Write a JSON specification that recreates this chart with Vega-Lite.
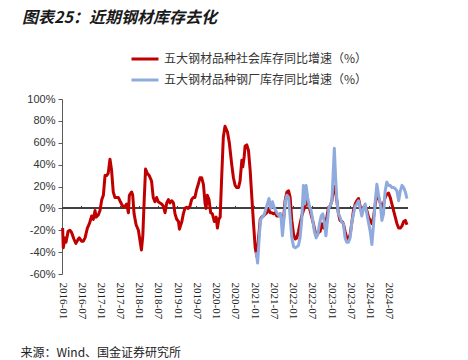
{
  "$schema": "https://vega.github.io/schema/vega-lite/v6.json",
  "width": 346,
  "height": 175,
  "autosize": {"type": "none"},
  "padding": {"left": 62, "top": 99, "right": 60, "bottom": 86},
  "background": "white",
  "config": {"view": {"stroke": null}},
  "title": {
    "text": "图表25：近期钢材库存去化",
    "anchor": "start",
    "frame": "group",
    "font": "Noto Sans CJK SC",
    "fontSize": 16,
    "fontStyle": "italic",
    "fontWeight": "bold",
    "color": "#1a1a1a",
    "dx": -40,
    "offset": 18
  },
  "datasets": {
    "series": [
      {"d": "2016-01-07", "v": -18, "s": "五大钢材品种社会库存同比增速（%）"},
      {"d": "2016-01-13", "v": -36, "s": "五大钢材品种社会库存同比增速（%）"},
      {"d": "2016-01-29", "v": -27, "s": "五大钢材品种社会库存同比增速（%）"},
      {"d": "2016-02-08", "v": -31, "s": "五大钢材品种社会库存同比增速（%）"},
      {"d": "2016-02-28", "v": -21, "s": "五大钢材品种社会库存同比增速（%）"},
      {"d": "2016-03-16", "v": -20, "s": "五大钢材品种社会库存同比增速（%）"},
      {"d": "2016-04-01", "v": -22, "s": "五大钢材品种社会库存同比增速（%）"},
      {"d": "2016-04-23", "v": -28, "s": "五大钢材品种社会库存同比增速（%）"},
      {"d": "2016-05-12", "v": -32, "s": "五大钢材品种社会库存同比增速（%）"},
      {"d": "2016-06-04", "v": -28, "s": "五大钢材品种社会库存同比增速（%）"},
      {"d": "2016-06-13", "v": -27, "s": "五大钢材品种社会库存同比增速（%）"},
      {"d": "2016-07-05", "v": -30, "s": "五大钢材品种社会库存同比增速（%）"},
      {"d": "2016-07-21", "v": -30, "s": "五大钢材品种社会库存同比增速（%）"},
      {"d": "2016-08-07", "v": -27, "s": "五大钢材品种社会库存同比增速（%）"},
      {"d": "2016-08-29", "v": -18, "s": "五大钢材品种社会库存同比增速（%）"},
      {"d": "2016-09-17", "v": -14, "s": "五大钢材品种社会库存同比增速（%）"},
      {"d": "2016-09-30", "v": -10, "s": "五大钢材品种社会库存同比增速（%）"},
      {"d": "2016-10-09", "v": -7, "s": "五大钢材品种社会库存同比增速（%）"},
      {"d": "2016-10-25", "v": -10, "s": "五大钢材品种社会库存同比增速（%）"},
      {"d": "2016-11-10", "v": -2, "s": "五大钢材品种社会库存同比增速（%）"},
      {"d": "2016-11-20", "v": -8, "s": "五大钢材品种社会库存同比增速（%）"},
      {"d": "2016-12-11", "v": -6, "s": "五大钢材品种社会库存同比增速（%）"},
      {"d": "2016-12-27", "v": -2, "s": "五大钢材品种社会库存同比增速（%）"},
      {"d": "2017-01-13", "v": 8, "s": "五大钢材品种社会库存同比增速（%）"},
      {"d": "2017-01-28", "v": 12, "s": "五大钢材品种社会库存同比增速（%）"},
      {"d": "2017-02-13", "v": 30, "s": "五大钢材品种社会库存同比增速（%）"},
      {"d": "2017-02-28", "v": 30, "s": "五大钢材品种社会库存同比增速（%）"},
      {"d": "2017-03-15", "v": 32, "s": "五大钢材品种社会库存同比增速（%）"},
      {"d": "2017-04-01", "v": 45, "s": "五大钢材品种社会库存同比增速（%）"},
      {"d": "2017-04-16", "v": 35, "s": "五大钢材品种社会库存同比增速（%）"},
      {"d": "2017-05-02", "v": 15, "s": "五大钢材品种社会库存同比增速（%）"},
      {"d": "2017-05-18", "v": 10, "s": "五大钢材品种社会库存同比增速（%）"},
      {"d": "2017-06-19", "v": 10, "s": "五大钢材品种社会库存同比增速（%）"},
      {"d": "2017-07-04", "v": 7, "s": "五大钢材品种社会库存同比增速（%）"},
      {"d": "2017-07-20", "v": 4, "s": "五大钢材品种社会库存同比增速（%）"},
      {"d": "2017-08-06", "v": 1, "s": "五大钢材品种社会库存同比增速（%）"},
      {"d": "2017-08-22", "v": 2, "s": "五大钢材品种社会库存同比增速（%）"},
      {"d": "2017-09-07", "v": 4, "s": "五大钢材品种社会库存同比增速（%）"},
      {"d": "2017-09-23", "v": -4, "s": "五大钢材品种社会库存同比增速（%）"},
      {"d": "2017-10-02", "v": 12, "s": "五大钢材品种社会库存同比增速（%）"},
      {"d": "2017-10-24", "v": 15, "s": "五大钢材品种社会库存同比增速（%）"},
      {"d": "2017-11-03", "v": 12, "s": "五大钢材品种社会库存同比增速（%）"},
      {"d": "2017-11-16", "v": -5, "s": "五大钢材品种社会库存同比增速（%）"},
      {"d": "2017-12-05", "v": -15, "s": "五大钢材品种社会库存同比增速（%）"},
      {"d": "2017-12-27", "v": -20, "s": "五大钢材品种社会库存同比增速（%）"},
      {"d": "2018-01-12", "v": -30, "s": "五大钢材品种社会库存同比增速（%）"},
      {"d": "2018-01-25", "v": -38, "s": "五大钢材品种社会库存同比增速（%）"},
      {"d": "2018-02-07", "v": -25, "s": "五大钢材品种社会库存同比增速（%）"},
      {"d": "2018-02-19", "v": 5, "s": "五大钢材品种社会库存同比增速（%）"},
      {"d": "2018-03-05", "v": 36, "s": "五大钢材品种社会库存同比增速（%）"},
      {"d": "2018-03-21", "v": 32, "s": "五大钢材品种社会库存同比增速（%）"},
      {"d": "2018-04-09", "v": 30, "s": "五大钢材品种社会库存同比增速（%）"},
      {"d": "2018-05-01", "v": 25, "s": "五大钢材品种社会库存同比增速（%）"},
      {"d": "2018-05-17", "v": 10, "s": "五大钢材品种社会库存同比增速（%）"},
      {"d": "2018-06-02", "v": 6, "s": "五大钢材品种社会库存同比增速（%）"},
      {"d": "2018-06-18", "v": 10, "s": "五大钢材品种社会库存同比增速（%）"},
      {"d": "2018-07-04", "v": 6, "s": "五大钢材品种社会库存同比增速（%）"},
      {"d": "2018-07-20", "v": 5, "s": "五大钢材品种社会库存同比增速（%）"},
      {"d": "2018-08-05", "v": 4, "s": "五大钢材品种社会库存同比增速（%）"},
      {"d": "2018-08-21", "v": 2, "s": "五大钢材品种社会库存同比增速（%）"},
      {"d": "2018-09-06", "v": -4, "s": "五大钢材品种社会库存同比增速（%）"},
      {"d": "2018-09-22", "v": 5, "s": "五大钢材品种社会库存同比增速（%）"},
      {"d": "2018-10-08", "v": 8, "s": "五大钢材品种社会库存同比增速（%）"},
      {"d": "2018-10-23", "v": 5, "s": "五大钢材品种社会库存同比增速（%）"},
      {"d": "2018-11-09", "v": 7, "s": "五大钢材品种社会库存同比增速（%）"},
      {"d": "2018-11-25", "v": 5, "s": "五大钢材品种社会库存同比增速（%）"},
      {"d": "2018-12-10", "v": -5, "s": "五大钢材品种社会库存同比增速（%）"},
      {"d": "2018-12-26", "v": -10, "s": "五大钢材品种社会库存同比增速（%）"},
      {"d": "2019-01-12", "v": -12, "s": "五大钢材品种社会库存同比增速（%）"},
      {"d": "2019-01-21", "v": -19, "s": "五大钢材品种社会库存同比增速（%）"},
      {"d": "2019-02-13", "v": -12, "s": "五大钢材品种社会库存同比增速（%）"},
      {"d": "2019-02-27", "v": -5, "s": "五大钢材品种社会库存同比增速（%）"},
      {"d": "2019-03-14", "v": 0, "s": "五大钢材品种社会库存同比增速（%）"},
      {"d": "2019-03-30", "v": 1, "s": "五大钢材品种社会库存同比增速（%）"},
      {"d": "2019-04-15", "v": 0, "s": "五大钢材品种社会库存同比增速（%）"},
      {"d": "2019-05-01", "v": 2, "s": "五大钢材品种社会库存同比增速（%）"},
      {"d": "2019-05-17", "v": 8, "s": "五大钢材品种社会库存同比增速（%）"},
      {"d": "2019-06-02", "v": 10, "s": "五大钢材品种社会库存同比增速（%）"},
      {"d": "2019-06-17", "v": 10, "s": "五大钢材品种社会库存同比增速（%）"},
      {"d": "2019-07-03", "v": 17, "s": "五大钢材品种社会库存同比增速（%）"},
      {"d": "2019-07-19", "v": 22, "s": "五大钢材品种社会库存同比增速（%）"},
      {"d": "2019-08-04", "v": 28, "s": "五大钢材品种社会库存同比增速（%）"},
      {"d": "2019-08-20", "v": 28, "s": "五大钢材品种社会库存同比增速（%）"},
      {"d": "2019-09-06", "v": 22, "s": "五大钢材品种社会库存同比增速（%）"},
      {"d": "2019-09-21", "v": 5, "s": "五大钢材品种社会库存同比增速（%）"},
      {"d": "2019-10-01", "v": 0, "s": "五大钢材品种社会库存同比增速（%）"},
      {"d": "2019-10-13", "v": 12, "s": "五大钢材品种社会库存同比增速（%）"},
      {"d": "2019-10-29", "v": 8, "s": "五大钢材品种社会库存同比增速（%）"},
      {"d": "2019-11-14", "v": -4, "s": "五大钢材品种社会库存同比增速（%）"},
      {"d": "2019-11-30", "v": -5, "s": "五大钢材品种社会库存同比增速（%）"},
      {"d": "2019-12-19", "v": -12, "s": "五大钢材品种社会库存同比增速（%）"},
      {"d": "2020-01-05", "v": -8, "s": "五大钢材品种社会库存同比增速（%）"},
      {"d": "2020-01-17", "v": -18, "s": "五大钢材品种社会库存同比增速（%）"},
      {"d": "2020-01-30", "v": -10, "s": "五大钢材品种社会库存同比增速（%）"},
      {"d": "2020-02-12", "v": -8, "s": "五大钢材品种社会库存同比增速（%）"},
      {"d": "2020-02-27", "v": 30, "s": "五大钢材品种社会库存同比增速（%）"},
      {"d": "2020-03-13", "v": 65, "s": "五大钢材品种社会库存同比增速（%）"},
      {"d": "2020-03-29", "v": 75, "s": "五大钢材品种社会库存同比增速（%）"},
      {"d": "2020-04-21", "v": 70, "s": "五大钢材品种社会库存同比增速（%）"},
      {"d": "2020-05-09", "v": 60, "s": "五大钢材品种社会库存同比增速（%）"},
      {"d": "2020-06-01", "v": 40, "s": "五大钢材品种社会库存同比增速（%）"},
      {"d": "2020-06-17", "v": 28, "s": "五大钢材品种社会库存同比增速（%）"},
      {"d": "2020-07-03", "v": 21, "s": "五大钢材品种社会库存同比增速（%）"},
      {"d": "2020-07-18", "v": 19, "s": "五大钢材品种社会库存同比增速（%）"},
      {"d": "2020-08-04", "v": 19, "s": "五大钢材品种社会库存同比增速（%）"},
      {"d": "2020-08-19", "v": 25, "s": "五大钢材品种社会库存同比增速（%）"},
      {"d": "2020-09-05", "v": 44, "s": "五大钢材品种社会库存同比增速（%）"},
      {"d": "2020-09-14", "v": 38, "s": "五大钢材品种社会库存同比增速（%）"},
      {"d": "2020-09-27", "v": 47, "s": "五大钢材品种社会库存同比增速（%）"},
      {"d": "2020-10-06", "v": 57, "s": "五大钢材品种社会库存同比增速（%）"},
      {"d": "2020-10-22", "v": 58, "s": "五大钢材品种社会库存同比增速（%）"},
      {"d": "2020-11-07", "v": 53, "s": "五大钢材品种社会库存同比增速（%）"},
      {"d": "2020-11-23", "v": 35, "s": "五大钢材品种社会库存同比增速（%）"},
      {"d": "2020-12-09", "v": 10, "s": "五大钢材品种社会库存同比增速（%）"},
      {"d": "2020-12-25", "v": -14, "s": "五大钢材品种社会库存同比增速（%）"},
      {"d": "2021-01-10", "v": -36, "s": "五大钢材品种社会库存同比增速（%）"},
      {"d": "2021-01-26", "v": -44, "s": "五大钢材品种社会库存同比增速（%）"},
      {"d": "2021-02-11", "v": -27, "s": "五大钢材品种社会库存同比增速（%）"},
      {"d": "2021-02-27", "v": -10, "s": "五大钢材品种社会库存同比增速（%）"},
      {"d": "2021-03-13", "v": -8, "s": "五大钢材品种社会库存同比增速（%）"},
      {"d": "2021-03-29", "v": -7, "s": "五大钢材品种社会库存同比增速（%）"},
      {"d": "2021-04-30", "v": -4, "s": "五大钢材品种社会库存同比增速（%）"},
      {"d": "2021-05-15", "v": 0, "s": "五大钢材品种社会库存同比增速（%）"},
      {"d": "2021-06-01", "v": -4, "s": "五大钢材品种社会库存同比增速（%）"},
      {"d": "2021-06-16", "v": -4, "s": "五大钢材品种社会库存同比增速（%）"},
      {"d": "2021-07-02", "v": -5, "s": "五大钢材品种社会库存同比增速（%）"},
      {"d": "2021-07-18", "v": -4, "s": "五大钢材品种社会库存同比增速（%）"},
      {"d": "2021-08-03", "v": -7, "s": "五大钢材品种社会库存同比增速（%）"},
      {"d": "2021-08-19", "v": -7, "s": "五大钢材品种社会库存同比增速（%）"},
      {"d": "2021-09-04", "v": -5, "s": "五大钢材品种社会库存同比增速（%）"},
      {"d": "2021-09-20", "v": -8, "s": "五大钢材品种社会库存同比增速（%）"},
      {"d": "2021-10-06", "v": -10, "s": "五大钢材品种社会库存同比增速（%）"},
      {"d": "2021-10-21", "v": 7, "s": "五大钢材品种社会库存同比增速（%）"},
      {"d": "2021-11-07", "v": 15, "s": "五大钢材品种社会库存同比增速（%）"},
      {"d": "2021-11-23", "v": 16, "s": "五大钢材品种社会库存同比增速（%）"},
      {"d": "2021-12-08", "v": 10, "s": "五大钢材品种社会库存同比增速（%）"},
      {"d": "2021-12-24", "v": -11, "s": "五大钢材品种社会库存同比增速（%）"},
      {"d": "2022-01-10", "v": -24, "s": "五大钢材品种社会库存同比增速（%）"},
      {"d": "2022-01-25", "v": -28, "s": "五大钢材品种社会库存同比增速（%）"},
      {"d": "2022-02-10", "v": -27, "s": "五大钢材品种社会库存同比增速（%）"},
      {"d": "2022-02-25", "v": -21, "s": "五大钢材品种社会库存同比增速（%）"},
      {"d": "2022-03-12", "v": -14, "s": "五大钢材品种社会库存同比增速（%）"},
      {"d": "2022-03-28", "v": -7, "s": "五大钢材品种社会库存同比增速（%）"},
      {"d": "2022-04-13", "v": -2, "s": "五大钢材品种社会库存同比增速（%）"},
      {"d": "2022-04-29", "v": 2, "s": "五大钢材品种社会库存同比增速（%）"},
      {"d": "2022-05-15", "v": 7, "s": "五大钢材品种社会库存同比增速（%）"},
      {"d": "2022-05-31", "v": 4, "s": "五大钢材品种社会库存同比增速（%）"},
      {"d": "2022-06-16", "v": -2, "s": "五大钢材品种社会库存同比增速（%）"},
      {"d": "2022-07-01", "v": -8, "s": "五大钢材品种社会库存同比增速（%）"},
      {"d": "2022-07-17", "v": -14, "s": "五大钢材品种社会库存同比增速（%）"},
      {"d": "2022-08-02", "v": -21, "s": "五大钢材品种社会库存同比增速（%）"},
      {"d": "2022-08-18", "v": -24, "s": "五大钢材品种社会库存同比增速（%）"},
      {"d": "2022-09-04", "v": -22, "s": "五大钢材品种社会库存同比增速（%）"},
      {"d": "2022-09-19", "v": -21, "s": "五大钢材品种社会库存同比增速（%）"},
      {"d": "2022-10-05", "v": -14, "s": "五大钢材品种社会库存同比增速（%）"},
      {"d": "2022-10-21", "v": -18, "s": "五大钢材品种社会库存同比增速（%）"},
      {"d": "2022-11-06", "v": -13, "s": "五大钢材品种社会库存同比增速（%）"},
      {"d": "2022-11-22", "v": -8, "s": "五大钢材品种社会库存同比增速（%）"},
      {"d": "2022-12-08", "v": 1, "s": "五大钢材品种社会库存同比增速（%）"},
      {"d": "2022-12-23", "v": 2, "s": "五大钢材品种社会库存同比增速（%）"},
      {"d": "2023-01-09", "v": 7, "s": "五大钢材品种社会库存同比增速（%）"},
      {"d": "2023-01-25", "v": 19, "s": "五大钢材品种社会库存同比增速（%）"},
      {"d": "2023-02-06", "v": 20, "s": "五大钢材品种社会库存同比增速（%）"},
      {"d": "2023-02-25", "v": 7, "s": "五大钢材品种社会库存同比增速（%）"},
      {"d": "2023-03-12", "v": -5, "s": "五大钢材品种社会库存同比增速（%）"},
      {"d": "2023-03-27", "v": -11, "s": "五大钢材品种社会库存同比增速（%）"},
      {"d": "2023-04-13", "v": -12, "s": "五大钢材品种社会库存同比增速（%）"},
      {"d": "2023-04-28", "v": -14, "s": "五大钢材品种社会库存同比增速（%）"},
      {"d": "2023-05-14", "v": -21, "s": "五大钢材品种社会库存同比增速（%）"},
      {"d": "2023-05-30", "v": -27, "s": "五大钢材品种社会库存同比增速（%）"},
      {"d": "2023-06-15", "v": -28, "s": "五大钢材品种社会库存同比增速（%）"},
      {"d": "2023-07-01", "v": -24, "s": "五大钢材品种社会库存同比增速（%）"},
      {"d": "2023-07-17", "v": -13, "s": "五大钢材品种社会库存同比增速（%）"},
      {"d": "2023-08-02", "v": -2, "s": "五大钢材品种社会库存同比增速（%）"},
      {"d": "2023-08-18", "v": 4, "s": "五大钢材品种社会库存同比增速（%）"},
      {"d": "2023-09-03", "v": 7, "s": "五大钢材品种社会库存同比增速（%）"},
      {"d": "2023-09-19", "v": 9, "s": "五大钢材品种社会库存同比增速（%）"},
      {"d": "2023-10-04", "v": 2, "s": "五大钢材品种社会库存同比增速（%）"},
      {"d": "2023-10-20", "v": -4, "s": "五大钢材品种社会库存同比增速（%）"},
      {"d": "2023-11-06", "v": 1, "s": "五大钢材品种社会库存同比增速（%）"},
      {"d": "2023-11-21", "v": 2, "s": "五大钢材品种社会库存同比增速（%）"},
      {"d": "2023-12-07", "v": -2, "s": "五大钢材品种社会库存同比增速（%）"},
      {"d": "2023-12-23", "v": -8, "s": "五大钢材品种社会库存同比增速（%）"},
      {"d": "2024-01-08", "v": -11, "s": "五大钢材品种社会库存同比增速（%）"},
      {"d": "2024-01-24", "v": -14, "s": "五大钢材品种社会库存同比增速（%）"},
      {"d": "2024-02-09", "v": -8, "s": "五大钢材品种社会库存同比增速（%）"},
      {"d": "2024-02-25", "v": 4, "s": "五大钢材品种社会库存同比增速（%）"},
      {"d": "2024-03-11", "v": 13, "s": "五大钢材品种社会库存同比增速（%）"},
      {"d": "2024-03-26", "v": 10, "s": "五大钢材品种社会库存同比增速（%）"},
      {"d": "2024-04-12", "v": 5, "s": "五大钢材品种社会库存同比增速（%）"},
      {"d": "2024-04-28", "v": 2, "s": "五大钢材品种社会库存同比增速（%）"},
      {"d": "2024-05-13", "v": 4, "s": "五大钢材品种社会库存同比增速（%）"},
      {"d": "2024-05-29", "v": 10, "s": "五大钢材品种社会库存同比增速（%）"},
      {"d": "2024-06-14", "v": 13, "s": "五大钢材品种社会库存同比增速（%）"},
      {"d": "2024-06-30", "v": 14, "s": "五大钢材品种社会库存同比增速（%）"},
      {"d": "2024-07-16", "v": 10, "s": "五大钢材品种社会库存同比增速（%）"},
      {"d": "2024-08-01", "v": 4, "s": "五大钢材品种社会库存同比增速（%）"},
      {"d": "2024-08-17", "v": -2, "s": "五大钢材品种社会库存同比增速（%）"},
      {"d": "2024-09-02", "v": -8, "s": "五大钢材品种社会库存同比增速（%）"},
      {"d": "2024-09-18", "v": -14, "s": "五大钢材品种社会库存同比增速（%）"},
      {"d": "2024-10-04", "v": -18, "s": "五大钢材品种社会库存同比增速（%）"},
      {"d": "2024-10-20", "v": -18, "s": "五大钢材品种社会库存同比增速（%）"},
      {"d": "2024-11-05", "v": -16, "s": "五大钢材品种社会库存同比增速（%）"},
      {"d": "2024-11-21", "v": -12, "s": "五大钢材品种社会库存同比增速（%）"},
      {"d": "2024-12-07", "v": -11, "s": "五大钢材品种社会库存同比增速（%）"},
      {"d": "2024-12-22", "v": -15, "s": "五大钢材品种社会库存同比增速（%）"},
      {"d": "2021-01-20", "v": -40, "s": "五大钢材品种钢厂库存同比增速（%）"},
      {"d": "2021-02-02", "v": -50, "s": "五大钢材品种钢厂库存同比增速（%）"},
      {"d": "2021-02-21", "v": -21, "s": "五大钢材品种钢厂库存同比增速（%）"},
      {"d": "2021-03-03", "v": -10, "s": "五大钢材品种钢厂库存同比增速（%）"},
      {"d": "2021-03-19", "v": -8, "s": "五大钢材品种钢厂库存同比增速（%）"},
      {"d": "2021-04-04", "v": -6, "s": "五大钢材品种钢厂库存同比增速（%）"},
      {"d": "2021-04-20", "v": -1, "s": "五大钢材品种钢厂库存同比增速（%）"},
      {"d": "2021-05-06", "v": 4, "s": "五大钢材品种钢厂库存同比增速（%）"},
      {"d": "2021-05-21", "v": 9, "s": "五大钢材品种钢厂库存同比增速（%）"},
      {"d": "2021-06-07", "v": 0, "s": "五大钢材品种钢厂库存同比增速（%）"},
      {"d": "2021-06-23", "v": 6, "s": "五大钢材品种钢厂库存同比增速（%）"},
      {"d": "2021-07-08", "v": 1, "s": "五大钢材品种钢厂库存同比增速（%）"},
      {"d": "2021-07-24", "v": -2, "s": "五大钢材品种钢厂库存同比增速（%）"},
      {"d": "2021-08-09", "v": -5, "s": "五大钢材品种钢厂库存同比增速（%）"},
      {"d": "2021-08-28", "v": -7, "s": "五大钢材品种钢厂库存同比增速（%）"},
      {"d": "2021-09-10", "v": -5, "s": "五大钢材品种钢厂库存同比增速（%）"},
      {"d": "2021-09-26", "v": -25, "s": "五大钢材品种钢厂库存同比增速（%）"},
      {"d": "2021-10-12", "v": -8, "s": "五大钢材品种钢厂库存同比增速（%）"},
      {"d": "2021-10-25", "v": 7, "s": "五大钢材品种钢厂库存同比增速（%）"},
      {"d": "2021-11-07", "v": 12, "s": "五大钢材品种钢厂库存同比增速（%）"},
      {"d": "2021-11-23", "v": 10, "s": "五大钢材品种钢厂库存同比增速（%）"},
      {"d": "2021-12-08", "v": -8, "s": "五大钢材品种钢厂库存同比增速（%）"},
      {"d": "2021-12-24", "v": -27, "s": "五大钢材品种钢厂库存同比增速（%）"},
      {"d": "2022-01-10", "v": -35, "s": "五大钢材品种钢厂库存同比增速（%）"},
      {"d": "2022-01-25", "v": -36, "s": "五大钢材品种钢厂库存同比增速（%）"},
      {"d": "2022-02-10", "v": -35, "s": "五大钢材品种钢厂库存同比增速（%）"},
      {"d": "2022-02-25", "v": -34, "s": "五大钢材品种钢厂库存同比增速（%）"},
      {"d": "2022-03-12", "v": -27, "s": "五大钢材品种钢厂库存同比增速（%）"},
      {"d": "2022-03-28", "v": -11, "s": "五大钢材品种钢厂库存同比增速（%）"},
      {"d": "2022-04-13", "v": 21, "s": "五大钢材品种钢厂库存同比增速（%）"},
      {"d": "2022-04-26", "v": 4, "s": "五大钢材品种钢厂库存同比增速（%）"},
      {"d": "2022-05-08", "v": 21, "s": "五大钢材品种钢厂库存同比增速（%）"},
      {"d": "2022-05-24", "v": 10, "s": "五大钢材品种钢厂库存同比增速（%）"},
      {"d": "2022-06-09", "v": 2, "s": "五大钢材品种钢厂库存同比增速（%）"},
      {"d": "2022-06-25", "v": -2, "s": "五大钢材品种钢厂库存同比增速（%）"},
      {"d": "2022-07-11", "v": -11, "s": "五大钢材品种钢厂库存同比增速（%）"},
      {"d": "2022-07-26", "v": -21, "s": "五大钢材品种钢厂库存同比增速（%）"},
      {"d": "2022-08-12", "v": -27, "s": "五大钢材品种钢厂库存同比增速（%）"},
      {"d": "2022-08-28", "v": -24, "s": "五大钢材品种钢厂库存同比增速（%）"},
      {"d": "2022-09-13", "v": -14, "s": "五大钢材品种钢厂库存同比增速（%）"},
      {"d": "2022-09-29", "v": -7, "s": "五大钢材品种钢厂库存同比增速（%）"},
      {"d": "2022-10-15", "v": -5, "s": "五大钢材品种钢厂库存同比增速（%）"},
      {"d": "2022-10-31", "v": -14, "s": "五大钢材品种钢厂库存同比增速（%）"},
      {"d": "2022-11-13", "v": -25, "s": "五大钢材品种钢厂库存同比增速（%）"},
      {"d": "2022-11-25", "v": -14, "s": "五大钢材品种钢厂库存同比增速（%）"},
      {"d": "2022-12-11", "v": 1, "s": "五大钢材品种钢厂库存同比增速（%）"},
      {"d": "2022-12-23", "v": 2, "s": "五大钢材品种钢厂库存同比增速（%）"},
      {"d": "2023-01-09", "v": 7, "s": "五大钢材品种钢厂库存同比增速（%）"},
      {"d": "2023-01-21", "v": 32, "s": "五大钢材品种钢厂库存同比增速（%）"},
      {"d": "2023-02-01", "v": 55, "s": "五大钢材品种钢厂库存同比增速（%）"},
      {"d": "2023-02-13", "v": 28, "s": "五大钢材品种钢厂库存同比增速（%）"},
      {"d": "2023-02-25", "v": 7, "s": "五大钢材品种钢厂库存同比增速（%）"},
      {"d": "2023-03-12", "v": -5, "s": "五大钢材品种钢厂库存同比增速（%）"},
      {"d": "2023-03-27", "v": -8, "s": "五大钢材品种钢厂库存同比增速（%）"},
      {"d": "2023-04-13", "v": -13, "s": "五大钢材品种钢厂库存同比增速（%）"},
      {"d": "2023-04-28", "v": -14, "s": "五大钢材品种钢厂库存同比增速（%）"},
      {"d": "2023-05-14", "v": -27, "s": "五大钢材品种钢厂库存同比增速（%）"},
      {"d": "2023-05-30", "v": -31, "s": "五大钢材品种钢厂库存同比增速（%）"},
      {"d": "2023-06-15", "v": -31, "s": "五大钢材品种钢厂库存同比增速（%）"},
      {"d": "2023-07-01", "v": -27, "s": "五大钢材品种钢厂库存同比增速（%）"},
      {"d": "2023-07-17", "v": -13, "s": "五大钢材品种钢厂库存同比增速（%）"},
      {"d": "2023-08-02", "v": -5, "s": "五大钢材品种钢厂库存同比增速（%）"},
      {"d": "2023-08-18", "v": 2, "s": "五大钢材品种钢厂库存同比增速（%）"},
      {"d": "2023-09-03", "v": 4, "s": "五大钢材品种钢厂库存同比增速（%）"},
      {"d": "2023-09-19", "v": 7, "s": "五大钢材品种钢厂库存同比增速（%）"},
      {"d": "2023-10-04", "v": 0, "s": "五大钢材品种钢厂库存同比增速（%）"},
      {"d": "2023-10-20", "v": -7, "s": "五大钢材品种钢厂库存同比增速（%）"},
      {"d": "2023-11-06", "v": 0, "s": "五大钢材品种钢厂库存同比增速（%）"},
      {"d": "2023-11-21", "v": 4, "s": "五大钢材品种钢厂库存同比增速（%）"},
      {"d": "2023-12-07", "v": -5, "s": "五大钢材品种钢厂库存同比增速（%）"},
      {"d": "2023-12-23", "v": -13, "s": "五大钢材品种钢厂库存同比增速（%）"},
      {"d": "2024-01-08", "v": -21, "s": "五大钢材品种钢厂库存同比增速（%）"},
      {"d": "2024-01-24", "v": -33, "s": "五大钢材品种钢厂库存同比增速（%）"},
      {"d": "2024-02-09", "v": -14, "s": "五大钢材品种钢厂库存同比增速（%）"},
      {"d": "2024-02-25", "v": 7, "s": "五大钢材品种钢厂库存同比增速（%）"},
      {"d": "2024-03-11", "v": 22, "s": "五大钢材品种钢厂库存同比增速（%）"},
      {"d": "2024-03-26", "v": 13, "s": "五大钢材品种钢厂库存同比增速（%）"},
      {"d": "2024-04-12", "v": 4, "s": "五大钢材品种钢厂库存同比增速（%）"},
      {"d": "2024-04-28", "v": -11, "s": "五大钢材品种钢厂库存同比增速（%）"},
      {"d": "2024-05-13", "v": -5, "s": "五大钢材品种钢厂库存同比增速（%）"},
      {"d": "2024-05-29", "v": 16, "s": "五大钢材品种钢厂库存同比增速（%）"},
      {"d": "2024-06-14", "v": 24, "s": "五大钢材品种钢厂库存同比增速（%）"},
      {"d": "2024-06-30", "v": 21, "s": "五大钢材品种钢厂库存同比增速（%）"},
      {"d": "2024-07-16", "v": 21, "s": "五大钢材品种钢厂库存同比增速（%）"},
      {"d": "2024-08-01", "v": 19, "s": "五大钢材品种钢厂库存同比增速（%）"},
      {"d": "2024-08-17", "v": 19, "s": "五大钢材品种钢厂库存同比增速（%）"},
      {"d": "2024-09-02", "v": 18, "s": "五大钢材品种钢厂库存同比增速（%）"},
      {"d": "2024-09-18", "v": 16, "s": "五大钢材品种钢厂库存同比增速（%）"},
      {"d": "2024-10-04", "v": 7, "s": "五大钢材品种钢厂库存同比增速（%）"},
      {"d": "2024-10-20", "v": 16, "s": "五大钢材品种钢厂库存同比增速（%）"},
      {"d": "2024-11-05", "v": 21, "s": "五大钢材品种钢厂库存同比增速（%）"},
      {"d": "2024-11-21", "v": 19, "s": "五大钢材品种钢厂库存同比增速（%）"},
      {"d": "2024-12-07", "v": 15, "s": "五大钢材品种钢厂库存同比增速（%）"},
      {"d": "2024-12-22", "v": 9, "s": "五大钢材品种钢厂库存同比增速（%）"}
    ]
  },
  "data": {"name": "series"},
  "layer": [
    {
      "mark": {"type": "rule", "color": "#404040", "strokeWidth": 1},
      "encoding": {"y": {"datum": 0, "type": "quantitative", "axis": null}}
    },
    {
      "mark": {"type": "line", "strokeWidth": 3, "strokeJoin": "round"},
      "encoding": {
        "x": {
          "field": "d",
          "type": "temporal",
          "scale": {"type": "utc", "domain": [{"year": 2016, "month": 1, "date": 1, "utc": true}, {"year": 2025, "month": 1, "date": 1, "utc": true}]},
          "axis": {
            "orient": "bottom",
            "values": [
              {"year": 2016, "month": 1, "date": 1, "utc": true}, {"year": 2016, "month": 7, "date": 1, "utc": true},
              {"year": 2017, "month": 1, "date": 1, "utc": true}, {"year": 2017, "month": 7, "date": 1, "utc": true},
              {"year": 2018, "month": 1, "date": 1, "utc": true}, {"year": 2018, "month": 7, "date": 1, "utc": true},
              {"year": 2019, "month": 1, "date": 1, "utc": true}, {"year": 2019, "month": 7, "date": 1, "utc": true},
              {"year": 2020, "month": 1, "date": 1, "utc": true}, {"year": 2020, "month": 7, "date": 1, "utc": true},
              {"year": 2021, "month": 1, "date": 1, "utc": true}, {"year": 2021, "month": 7, "date": 1, "utc": true},
              {"year": 2022, "month": 1, "date": 1, "utc": true}, {"year": 2022, "month": 7, "date": 1, "utc": true},
              {"year": 2023, "month": 1, "date": 1, "utc": true}, {"year": 2023, "month": 7, "date": 1, "utc": true},
              {"year": 2024, "month": 1, "date": 1, "utc": true}, {"year": 2024, "month": 7, "date": 1, "utc": true}
            ],
            "format": "%Y-%m",
            "labelAngle": 90,
            "labelFont": "Liberation Serif",
            "labelFontSize": 11,
            "labelColor": "#222222",
            "labelPadding": 8,
            "labelOverlap": false,
            "labelFlush": false,
            "ticks": false,
            "domain": false,
            "grid": false,
            "title": "来源：Wind、国金证券研究所",
            "titleFont": "Noto Sans CJK SC",
            "titleFontSize": 12,
            "titleFontWeight": "normal",
            "titleColor": "#222222",
            "titleAnchor": "start",
            "titleAlign": "left",
            "titleBaseline": "middle",
            "titleX": -42,
            "titleY": 78
          }
        },
        "y": {
          "field": "v",
          "type": "quantitative",
          "scale": {"domain": [-60, 100], "nice": false, "zero": false},
          "axis": {
            "values": [-60, -40, -20, 0, 20, 40, 60, 80, 100],
            "labelExpr": "datum.value + '%'",
            "labelFont": "Liberation Sans",
            "labelFontSize": 11,
            "labelColor": "#333333",
            "labelPadding": 3,
            "labelOverlap": false,
            "labelFlush": false,
            "tickSize": 4,
            "tickColor": "#595959",
            "domainColor": "#595959",
            "grid": false,
            "title": null
          }
        },
        "color": {
          "field": "s",
          "type": "nominal",
          "scale": {
            "domain": ["五大钢材品种社会库存同比增速（%）", "五大钢材品种钢厂库存同比增速（%）"],
            "range": ["#C00000", "#8FAADC"]
          },
          "legend": {
            "orient": "none",
            "legendX": 68,
            "legendY": -55,
            "direction": "vertical",
            "title": null,
            "symbolType": "stroke",
            "symbolSize": 729,
            "symbolStrokeWidth": 3,
            "labelFont": "Noto Sans CJK SC",
            "labelFontSize": 12,
            "labelColor": "#333333",
            "labelLimit": 400,
            "rowPadding": -2
          }
        }
      }
    },
    {
      "mark": {"type": "line", "opacity": 0},
      "encoding": {
        "x": {
          "field": "d",
          "type": "temporal",
          "axis": {
            "orient": "top",
            "offset": -109.4,
            "values": [
              {"year": 2016, "month": 1, "date": 1, "utc": true}, {"year": 2016, "month": 7, "date": 1, "utc": true},
              {"year": 2017, "month": 1, "date": 1, "utc": true}, {"year": 2017, "month": 7, "date": 1, "utc": true},
              {"year": 2018, "month": 1, "date": 1, "utc": true}, {"year": 2018, "month": 7, "date": 1, "utc": true},
              {"year": 2019, "month": 1, "date": 1, "utc": true}, {"year": 2019, "month": 7, "date": 1, "utc": true},
              {"year": 2020, "month": 1, "date": 1, "utc": true}, {"year": 2020, "month": 7, "date": 1, "utc": true},
              {"year": 2021, "month": 1, "date": 1, "utc": true}, {"year": 2021, "month": 7, "date": 1, "utc": true},
              {"year": 2022, "month": 1, "date": 1, "utc": true}, {"year": 2022, "month": 7, "date": 1, "utc": true},
              {"year": 2023, "month": 1, "date": 1, "utc": true}, {"year": 2023, "month": 7, "date": 1, "utc": true},
              {"year": 2024, "month": 1, "date": 1, "utc": true}, {"year": 2024, "month": 7, "date": 1, "utc": true}
            ],
            "labels": false,
            "domain": false,
            "grid": false,
            "ticks": true,
            "tickSize": 3,
            "tickColor": "#404040",
            "title": null
          }
        },
        "y": {"field": "v", "type": "quantitative", "axis": null}
      }
    }
  ],
  "resolve": {"axis": {"x": "independent", "y": "independent"}}
}
